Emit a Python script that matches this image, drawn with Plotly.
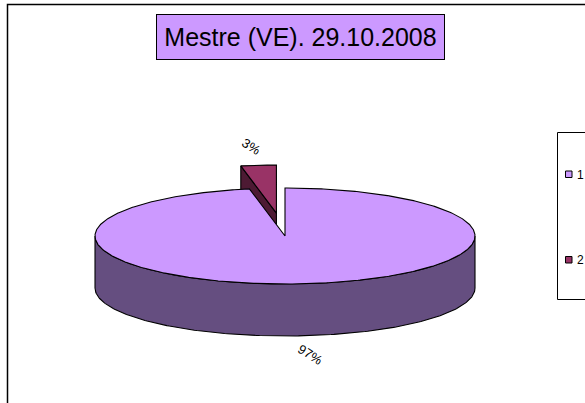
import numpy as np
import plotly.graph_objects as go

# ---- data ----
categories = ["1", "2"]
values = [97, 3]
title_text = "Mestre (VE). 29.10.2008"

# ---- styles / geometry (pixel-unit axes) ----
W, H = 585, 403
CX, CY = 285.0, 236.0   # centre of the top face
RX, RY = 190.0, 48.0    # ellipse radii of the top face
DEPTH = 52.0            # thickness of the pie
EXPLODE = [0.0, 0.48]   # fraction of radius each slice is pulled out
top_colors = ["#CC99FF", "#993366"]
side_colors = ["#654E80", "#4D1A33"]
FONT = "Arial, Liberation Sans, sans-serif"


def pt(theta, cx, cy, f=1.0, drop=0.0):
    t = np.radians(theta)
    return cx + f * RX * np.cos(t), cy - f * RY * np.sin(t) + drop


def arc(t0, t1, cx, cy, drop=0.0, n=200):
    ts = np.linspace(t0, t1, n)
    xs, ys = pt(ts, cx, cy, drop=drop)
    return list(xs), list(ys)


total = float(sum(values))
# Excel style: start at 12 o'clock, go clockwise (decreasing math angle)
starts, ends = [], []
a = 90.0
for v in values:
    starts.append(a)
    a -= v / total * 360.0
    ends.append(a)

fig = go.Figure()


def poly(xs, ys, color):
    fig.add_trace(go.Scatter(
        x=xs + [xs[0]], y=ys + [ys[0]], mode="lines", fill="toself",
        fillcolor=color, line=dict(color="black", width=1.1),
        hoverinfo="skip", showlegend=False))


centres = []
for i, v in enumerate(values):
    mid = (starts[i] + ends[i]) / 2
    t = np.radians(mid)
    dx = EXPLODE[i] * RX * np.cos(t)
    dy = -EXPLODE[i] * RY * np.sin(t)
    centres.append((CX + dx, CY + dy))

# --- slice 2 (small, exploded, behind) ---
i = 1
cx2, cy2 = centres[i]
# radial wall at its start angle (faces left/front)
rx_, ry_ = pt(starts[i], cx2, cy2)
poly([cx2, rx_, rx_, cx2], [cy2, ry_, ry_ + DEPTH, cy2 + DEPTH], side_colors[i])
# top face
ax, ay = arc(starts[i], ends[i], cx2, cy2)
poly([cx2] + ax, [cy2] + ay, top_colors[i])

# --- slice 1 (main) ---
i = 0
cx1, cy1 = centres[i]
# front outer wall: visible where sin < 0 (theta in [-180, 0])
lo = max(ends[i], -180.0)
hi = min(starts[i], 0.0)
tx, ty = arc(hi, lo, cx1, cy1)
bx, by = arc(lo, hi, cx1, cy1, drop=DEPTH)
poly(tx + bx, ty + by, side_colors[i])
# top face
ax, ay = arc(starts[i], ends[i], cx1, cy1, n=600)
poly([cx1] + ax, [cy1] + ay, top_colors[i])

# --- percentage labels ---
annotations = []
for i, v in enumerate(values):
    mid = (starts[i] + ends[i]) / 2
    cx_, cy_ = centres[i]
    drop = DEPTH if np.sin(np.radians(mid)) < 0 else 0.0
    lx, ly = pt(mid, cx_, cy_, f=1.40, drop=drop)
    annotations.append(dict(
        x=lx, y=ly, xref="x", yref="y", text=f"{round(v / total * 100)}%",
        showarrow=False, textangle=32, font=dict(family=FONT, size=13, color="black")))

# --- title box ---
annotations.append(dict(
    x=300.5, y=37, xref="x", yref="y", text=title_text, showarrow=False,
    font=dict(family=FONT, size=25, color="black"),
    bgcolor="#CC99FF", bordercolor="black", borderwidth=1,
    width=287, height=44, borderpad=0, xanchor="center", yanchor="middle"))

# --- legend (manual, partially cut off at the right) ---
shapes = [
    dict(type="rect", xref="x", yref="y", x0=7.5, y0=4.5, x1=W + 20, y1=H + 20,
         line=dict(color="black", width=1.5), fillcolor="rgba(0,0,0,0)", layer="below"),
    dict(type="rect", xref="x", yref="y", x0=557.5, y0=132.5, x1=W + 20, y1=299.5,
         line=dict(color="black", width=1), fillcolor="white", layer="below"),
]
legend_y = [174.5, 260.0]
for i, c in enumerate(categories):
    yy = legend_y[i]
    shapes.append(dict(type="rect", xref="x", yref="y", x0=565.5, x1=572, y0=yy - 3.5, y1=yy + 3,
                       line=dict(color="black", width=1), fillcolor=top_colors[i], layer="above"))
    annotations.append(dict(x=574.5, y=yy, xref="x", yref="y", text=c, showarrow=False,
                            xanchor="left", yanchor="middle",
                            font=dict(family=FONT, size=12, color="black")))

fig.update_layout(
    width=W, height=H,
    margin=dict(l=0, r=0, t=0, b=0, autoexpand=False),
    paper_bgcolor="white", plot_bgcolor="white",
    xaxis=dict(range=[0, W], visible=False, fixedrange=True),
    yaxis=dict(range=[H, 0], visible=False, fixedrange=True),
    annotations=annotations, shapes=shapes,
    showlegend=False,
)

fig.write_html("out.html", config={"displayModeBar": False},
               post_script="document.body.style.margin='0';document.body.style.overflow='hidden';")
